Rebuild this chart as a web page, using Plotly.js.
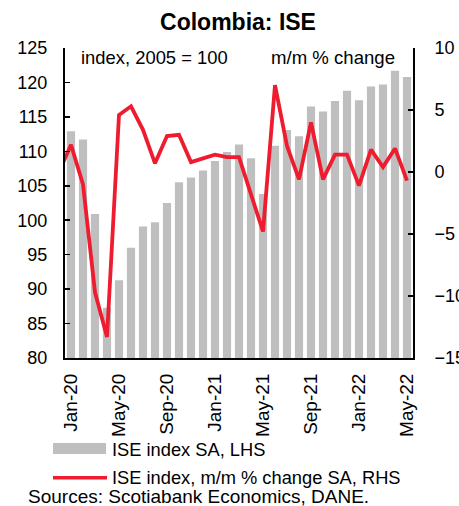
<!DOCTYPE html>
<html>
<head>
<meta charset="utf-8">
<script src="https://cdn.plot.ly/plotly-3.0.1.min.js"></script>
<style>html,body{margin:0;padding:0;background:#fff;}#chart{width:459px;height:506px;}</style>
</head>
<body>
<div id="chart"></div>
<script>
// ---- data ----
const months = ["Jan-20","Feb-20","Mar-20","Apr-20","May-20","Jun-20","Jul-20","Aug-20","Sep-20","Oct-20","Nov-20","Dec-20",
                "Jan-21","Feb-21","Mar-21","Apr-21","May-21","Jun-21","Jul-21","Aug-21","Sep-21","Oct-21","Nov-21","Dec-21",
                "Jan-22","Feb-22","Mar-22","Apr-22","May-22"];
const iseIndexSA = [112.9,111.7,100.9,87.3,91.3,96.0,99.1,99.7,102.5,105.5,106.2,107.2,
                    108.6,109.9,111.0,109.0,103.8,110.8,113.1,112.2,116.5,115.8,117.3,118.8,
                    117.4,119.4,119.7,121.7,120.8];
const mmChangeSA = [2.2,-1.0,-9.7,-13.3,4.6,5.3,3.4,0.7,2.9,3.0,0.8,1.1,
                    1.4,1.2,1.2,-1.8,-4.8,7.0,2.1,-0.6,4.0,-0.6,1.4,1.4,
                    -1.1,1.8,0.4,1.9,-0.7];
const mmChangeDec19 = 0.0; // prior month, only its segment into Jan-20 is visible
const tickEvery = 4;

// ---- layout helpers ----
const W = 459, H = 506;
const L = 65, R = 413, T = 48, B = 358;
const px = x => (x - L) / (R - L);
const py = y => (B - y) / (B - T);
const FONT = "Liberation Sans, Arial, sans-serif";

const idx = months.map((m, i) => i);
const lineX = [-1].concat(idx);
const lineY = [mmChangeDec19].concat(mmChangeSA);
const labelVals = idx.filter(i => i % tickEvery === 0);
const labelText = labelVals.map(i => months[i]);
const boundaryVals = labelVals.map(i => i - 0.5);

const traces = [
  {type: "bar", x: idx, y: iseIndexSA, xaxis: "x", yaxis: "y",
   marker: {color: "#bfbfbf", line: {width: 0}}, name: "ISE index SA, LHS",
   showlegend: false, hoverinfo: "skip"},
  {type: "scatter", mode: "lines", x: lineX, y: lineY, xaxis: "x", yaxis: "y2",
   line: {color: "#ee1c2e", width: 3.8}, name: "ISE index, m/m % change SA, RHS",
   showlegend: false, hoverinfo: "skip"}
];

const axisCommon = {showgrid: false, zeroline: false, showline: true, linecolor: "#000", linewidth: 2,
                    tickcolor: "#000", tickwidth: 1.5, fixedrange: true};

const layout = {
  width: W, height: H,
  margin: {l: L, r: W - R, t: T, b: H - B, pad: 0},
  paper_bgcolor: "#fff", plot_bgcolor: "#fff",
  font: {family: FONT, color: "#000", size: 18},
  bargap: 0.32,
  title: {text: "<b>Colombia: ISE</b>", font: {family: FONT, size: 23, color: "#000"},
          xref: "paper", x: px(238), xanchor: "center",
          yref: "container", y: 1 - 22 / H, yanchor: "middle"},
  xaxis: Object.assign({}, axisCommon, {
    range: [-0.5, months.length - 0.5], tickmode: "array", tickvals: labelVals, ticktext: labelText,
    tickangle: -90, ticks: "", tickfont: {size: 19}, ticklabelstandoff: 6
  }),
  xaxis2: {overlaying: "x", anchor: "y", side: "bottom", range: [-0.5, months.length - 0.5],
           tickmode: "array", tickvals: boundaryVals, ticks: "outside", ticklen: 6, tickwidth: 1.5,
           tickcolor: "#000", showticklabels: false, showline: false, showgrid: false, zeroline: false, fixedrange: true},
  yaxis: Object.assign({}, axisCommon, {
    range: [80, 125], dtick: 5, ticks: "inside", ticklen: 5, tickfont: {size: 18}, ticklabelstandoff: 12
  }),
  yaxis2: Object.assign({}, axisCommon, {
    overlaying: "y", side: "right", range: [-15, 10], dtick: 5, ticks: "inside", ticklen: 5,
    tickfont: {size: 18}, ticklabelstandoff: 16
  }),
  annotations: [
    {text: "index, 2005 = 100", xref: "paper", yref: "paper", x: px(79), y: py(57),
     xanchor: "left", yanchor: "middle", showarrow: false, font: {size: 18.4}},
    {text: "m/m % change", xref: "paper", yref: "paper", x: px(397), y: py(57),
     xanchor: "right", yanchor: "middle", showarrow: false, font: {size: 18.6}},
    {text: traces[0].name, xref: "paper", yref: "paper", x: px(110), y: py(449),
     xanchor: "left", yanchor: "middle", showarrow: false, font: {size: 18.3}},
    {text: traces[1].name, xref: "paper", yref: "paper", x: px(110), y: py(477.5),
     xanchor: "left", yanchor: "middle", showarrow: false, font: {size: 18.3}},
    {text: "Sources: Scotiabank Economics, DANE.", xref: "paper", yref: "paper", x: px(26), y: py(497),
     xanchor: "left", yanchor: "middle", showarrow: false, font: {size: 19}}
  ],
  shapes: [
    {type: "rect", xref: "paper", yref: "paper", x0: px(53), x1: px(106), y0: py(443), y1: py(454),
     fillcolor: "#bfbfbf", line: {width: 0}},
    {type: "line", xref: "paper", yref: "paper", x0: px(53), x1: px(107), y0: py(477.7), y1: py(477.7),
     line: {color: "#ee1c2e", width: 3.5}}
  ],
  showlegend: false
};

Plotly.newPlot("chart", traces, layout, {displayModeBar: false, staticPlot: true});
</script>
</body>
</html>
